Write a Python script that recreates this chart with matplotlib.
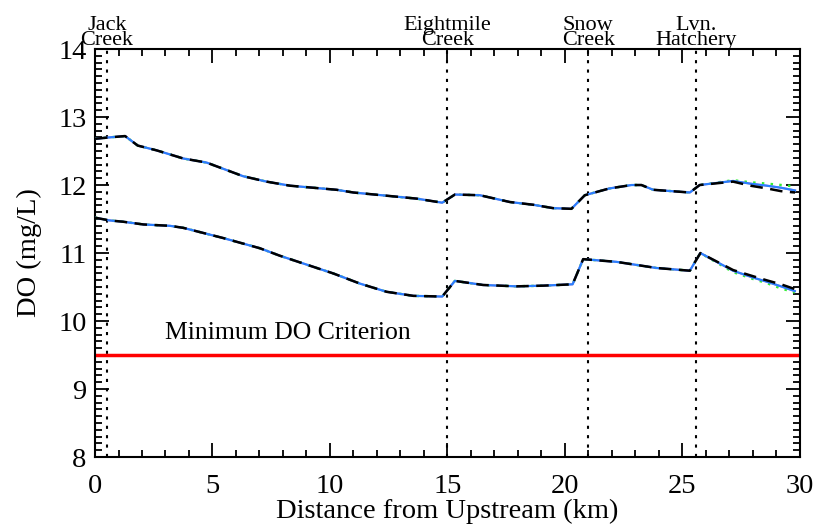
import matplotlib
matplotlib.use("Agg")
import matplotlib.pyplot as plt
from matplotlib.ticker import MultipleLocator
from matplotlib.transforms import blended_transform_factory, offset_copy

plt.rcParams['font.family'] = ['Liberation Serif', 'DejaVu Serif']

# Distance from upstream (km)
dist = [0.0, 0.6, 1.28, 1.82, 2.62, 3.76, 4.75, 6.3, 7.3, 8.3, 10.28, 11.0,
        13.69, 14.78, 15.32, 16.38, 17.66, 18.65, 19.5, 20.28, 20.85, 21.9,
        22.84, 23.26, 23.76, 25.32, 25.74, 27.16, 27.9, 28.6, 29.2, 29.8]

# Upper profile (mg/L) for each scenario
upper_blue = [12.68, 12.70, 12.72, 12.58, 12.51, 12.39, 12.33, 12.13, 12.05, 11.99,
              11.93, 11.89, 11.80, 11.74, 11.86, 11.85, 11.75, 11.71, 11.66, 11.65,
              11.85, 11.95, 12.00, 12.00, 11.93, 11.89, 12.00, 12.06, 12.02, 11.99, 11.96, 11.92]
upper_black = upper_blue[:27] + [12.05, 11.99, 11.95, 11.91, 11.89]
upper_green = upper_blue[:27] + [12.07, 12.04, 12.02, 12.00, 11.98]

# Lower profile (mg/L)
dist_low = [0.0, 0.6, 1.2, 2.06, 3.19, 3.76, 5.46, 7.02, 7.87, 10.14, 11.28, 12.41,
            13.55, 14.78, 15.32, 16.52, 17.94, 19.08, 20.33, 20.78, 22.2, 23.9,
            25.32, 25.77, 27.16, 28.0, 28.58, 29.2, 29.79]
lower_blue = [11.52, 11.48, 11.46, 11.42, 11.40, 11.37, 11.22, 11.07, 10.96, 10.70,
              10.55, 10.43, 10.37, 10.36, 10.59, 10.53, 10.51, 10.52, 10.54, 10.91,
              10.87, 10.78, 10.74, 11.00, 10.74, 10.64, 10.58, 10.51, 10.44]
lower_black = lower_blue[:24] + [10.75, 10.66, 10.60, 10.54, 10.47]
lower_green = lower_blue[:24] + [10.72, 10.62, 10.56, 10.48, 10.42]

criterion = 9.5
stations = ["Jack\nCreek", "Eightmile\nCreek", "Snow\nCreek", "Lvn.\nHatchery"]
station_km = [0.5, 15.0, 21.0, 25.6]

fig = plt.figure(figsize=(8.17, 5.30), dpi=100)
ax = fig.add_axes([0.1163, 0.1377, 0.8626, 0.7698])

ax.axhline(criterion, color='red', lw=2.5, zorder=2)
ax.text(2.98, 9.82, "Minimum DO Criterion", fontsize=18.5, ha='left', va='center')

for xs, b, k, g in [(dist, upper_blue, upper_black, upper_green),
                    (dist_low, lower_blue, lower_black, lower_green)]:
    ax.plot(xs, g, color='#33ee33', lw=1.8, ls=(0, (1, 2.5)), zorder=3)
    ax.plot(xs, b, color='#e07ab0', lw=1.4, zorder=3)
    ax.plot(xs, b, color='#2a7fff', lw=1.6, zorder=4)
    ax.plot(xs, k, color='black', lw=1.8, ls=(0, (5, 3)), zorder=5)

trans = blended_transform_factory(ax.transData, ax.transAxes)
for name, km in zip(stations, station_km):
    ax.axvline(km, color='black', lw=1.5, ls=(0, (1.5, 3)), zorder=1)
    ax.text(km, 1.0, name, transform=offset_copy(trans, fig=fig, y=-1, units='points'),
            ha='center', va='bottom', fontsize=16, linespacing=0.75)

ax.set_xlim(0, 30)
ax.set_ylim(8, 14)
ax.xaxis.set_major_locator(MultipleLocator(5))
ax.xaxis.set_minor_locator(MultipleLocator(1))
ax.yaxis.set_major_locator(MultipleLocator(1))
ax.yaxis.set_minor_locator(MultipleLocator(0.1))
ax.tick_params(which='both', direction='in', top=True, right=True, width=1.3, labelsize=20.5)
ax.tick_params(which='major', length=10)
ax.tick_params(which='minor', length=5)
ax.tick_params(axis='x', pad=12)
ax.tick_params(axis='y', pad=6)
for s in ax.spines.values():
    s.set_linewidth(1.5)

ax.set_xlabel("Distance from Upstream (km)", fontsize=20.5, labelpad=0)
ax.set_ylabel("DO (mg/L)", fontsize=20.5, labelpad=12)

fig.savefig("out.png", dpi=100)
